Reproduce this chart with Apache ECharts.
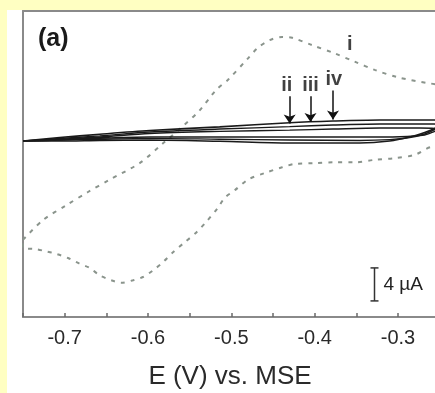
<!DOCTYPE html>
<html>
<head>
<meta charset="utf-8">
<script src="https://cdn.jsdelivr.net/npm/echarts@6/dist/echarts.min.js"></script>
<style>
  html, body { margin: 0; padding: 0; background: #ffffc2; width: 435px; height: 393px; overflow: hidden; position: relative; }
  #chart { position: absolute; left: 7px; top: 10px; width: 430px; height: 383px; background: #ffffff; }
</style>
</head>
<body>
<div id="chart"></div>
<script>
// Cycle i (dashed): potential in V vs. MSE, current in µA (arbitrary zero)
const cycleIForward = [
  [-0.750, -12.1], [-0.726, -9.7], [-0.698, -7.9], [-0.672, -6.3], [-0.646, -4.8],
  [-0.610, -2.8], [-0.582, -0.4], [-0.560, 1.5], [-0.538, 3.6], [-0.518, 6.1],
  [-0.504, 7.3], [-0.480, 9.9], [-0.468, 11.2], [-0.454, 12.1], [-0.439, 12.5],
  [-0.427, 12.4], [-0.403, 11.5], [-0.376, 10.5], [-0.352, 9.5], [-0.328, 8.5],
  [-0.300, 7.6], [-0.264, 6.9], [-0.250, 6.7]
];
const cycleIReverse = [
  [-0.250, -1.1], [-0.259, -0.85], [-0.280, -1.8], [-0.304, -2.2], [-0.328, -2.4],
  [-0.352, -2.7], [-0.376, -2.7], [-0.400, -2.8], [-0.424, -2.9], [-0.439, -3.3],
  [-0.460, -4.0], [-0.480, -4.8], [-0.496, -6.1], [-0.508, -7.0], [-0.516, -8.2],
  [-0.530, -9.9], [-0.542, -11.2], [-0.556, -12.4], [-0.570, -13.6], [-0.582, -14.8],
  [-0.594, -15.8], [-0.606, -16.6], [-0.618, -17.0], [-0.632, -17.3], [-0.644, -17.0],
  [-0.658, -16.4], [-0.670, -15.5], [-0.684, -14.9], [-0.696, -14.3], [-0.710, -13.8],
  [-0.722, -13.5], [-0.736, -13.2], [-0.750, -13.1], [-0.750, -12.1]
];
// Cycles ii–iv (solid): closed loops, forward then reverse sweep
const cycleII = [
  [-0.750, -0.12], [-0.706, 0.30], [-0.658, 0.70], [-0.598, 1.15], [-0.514, 1.60],
  [-0.430, 2.10], [-0.378, 2.30], [-0.322, 2.42], [-0.274, 2.42], [-0.256, 2.42],
  [-0.251, 2.10], [-0.252, 1.70], [-0.258, 1.30], [-0.268, 0.90], [-0.286, 0.36],
  [-0.310, -0.12], [-0.346, -0.36], [-0.430, -0.36], [-0.514, -0.15], [-0.598, 0.0],
  [-0.658, -0.05], [-0.706, -0.12], [-0.750, -0.12]
];
const cycleIII = [
  [-0.750, -0.12], [-0.706, 0.18], [-0.658, 0.50], [-0.598, 0.97], [-0.514, 1.33],
  [-0.430, 1.62], [-0.378, 1.82], [-0.322, 1.94], [-0.274, 1.94], [-0.256, 1.94],
  [-0.252, 1.60], [-0.255, 1.33], [-0.268, 0.73], [-0.286, 0.30], [-0.310, 0.05],
  [-0.346, -0.05], [-0.430, 0.0], [-0.514, 0.10], [-0.598, 0.20], [-0.658, 0.10],
  [-0.706, 0.0], [-0.750, -0.12]
];
const cycleIV = [
  [-0.750, -0.12], [-0.706, 0.12], [-0.658, 0.36], [-0.598, 0.80], [-0.514, 1.05],
  [-0.430, 1.20], [-0.378, 1.33], [-0.322, 1.45], [-0.274, 1.45], [-0.256, 1.40],
  [-0.253, 1.20], [-0.256, 1.05], [-0.268, 0.61], [-0.298, 0.40], [-0.346, 0.36],
  [-0.430, 0.36], [-0.514, 0.36], [-0.598, 0.36], [-0.658, 0.22], [-0.706, 0.0],
  [-0.750, -0.12]
];
// Cycle labels and the arrows that point at cycles ii–iv
const cycleLabels = [
  { name: 'i',   value: [-0.358, 11.6] },
  { name: 'ii',  value: [-0.4335, 6.6] },
  { name: 'iii', value: [-0.405, 6.6] },
  { name: 'iv',  value: [-0.377, 7.3] }
];
const cycleArrows = [
  [[-0.430, 5.3], [-0.430, 2.0]],
  [[-0.405, 5.3], [-0.405, 2.2]],
  [[-0.378, 6.0], [-0.378, 2.5]]
];
// Current scale bar: x, top, bottom (4 µA)
const scaleBar = [[-0.329, -15.5, -19.5]];
const scaleBarText = '4 µA';
const xTickValues = [-0.7, -0.6, -0.5, -0.4, -0.3];

const FONT = '"Liberation Sans", Arial, sans-serif';
const chart = echarts.init(document.getElementById('chart'), null, { renderer: 'canvas' });

const dashedStyle = { color: '#8a948c', width: 2, type: [4, 6] };
const solidStyle = (w) => ({ color: '#1a1a1a', width: w });
const axisLineStyle = { color: '#8a8a8a', width: 2 };

chart.setOption({
  animation: false,
  backgroundColor: 'transparent',
  title: {
    text: '(a)', left: 26, top: 12,
    textStyle: { fontFamily: FONT, fontSize: 25, fontWeight: 'bold', color: '#1a1a1a' }
  },
  grid: {
    left: 16, top: 1, right: 0, bottom: 76,
    outerBoundsMode: 'none', containLabel: false
  },
  xAxis: [{
    type: 'value', min: -0.75, max: -0.2532, interval: 0.05, position: 'bottom',
    name: 'E (V) vs. MSE', nameLocation: 'middle', nameGap: 47,
    nameTextStyle: { fontFamily: FONT, fontSize: 26, color: '#2a2a2a' },
    axisLine: { show: true, onZero: false, lineStyle: axisLineStyle },
    axisTick: { show: true, inside: true, length: 4, lineStyle: { color: '#6a6a6a', width: 1.5 } },
    axisLabel: {
      margin: 11, fontFamily: FONT, fontSize: 20, color: '#2a2a2a',
      formatter: (v) => {
        const hit = xTickValues.find((t) => Math.abs(t - v) < 1e-6);
        return hit === undefined ? '' : hit.toFixed(1);
      }
    },
    splitLine: { show: false }
  }, {
    // top frame line
    type: 'value', min: -0.75, max: -0.2532, position: 'top',
    axisLine: { show: true, onZero: false, lineStyle: axisLineStyle },
    axisTick: { show: false }, axisLabel: { show: false }, splitLine: { show: false }
  }],
  yAxis: {
    type: 'value', min: -21.45, max: 15.64,
    axisLine: { show: true, onZero: false, lineStyle: axisLineStyle },
    axisTick: { show: false }, axisLabel: { show: false }, splitLine: { show: false }
  },
  series: [
    { type: 'line', data: cycleIForward, showSymbol: false, smooth: 0.3, lineStyle: dashedStyle },
    { type: 'line', data: cycleIReverse, showSymbol: false, smooth: 0.3, lineStyle: dashedStyle },
    { type: 'line', data: cycleII, showSymbol: false, smooth: 0.3, lineStyle: solidStyle(1.6) },
    { type: 'line', data: cycleIII, showSymbol: false, smooth: 0.3, lineStyle: solidStyle(1.4) },
    { type: 'line', data: cycleIV, showSymbol: false, smooth: 0.3, lineStyle: solidStyle(1.4) },
    {
      type: 'lines', coordinateSystem: 'cartesian2d',
      symbol: ['none', 'arrow'], symbolSize: 9,
      lineStyle: { color: '#111', width: 1.5, opacity: 1 },
      data: cycleArrows.map((c) => ({ coords: c })),
      z: 5
    },
    {
      type: 'scatter', symbolSize: 0, data: cycleLabels,
      label: {
        show: true, position: 'inside', formatter: '{b}',
        fontFamily: FONT, fontSize: 20, fontWeight: 'bold', color: '#111'
      },
      z: 6
    },
    {
      type: 'custom', data: scaleBar, z: 6,
      renderItem: (params, api) => {
        const top = api.coord([api.value(0), api.value(1)]);
        const bot = api.coord([api.value(0), api.value(2)]);
        const x = Math.round(top[0]) + 0.5, cap = 4;
        const st = { stroke: '#333', lineWidth: 1.5 };
        return {
          type: 'group',
          children: [
            { type: 'line', shape: { x1: x, y1: top[1], x2: x, y2: bot[1] }, style: st },
            { type: 'line', shape: { x1: x - cap, y1: top[1], x2: x + cap, y2: top[1] }, style: st },
            { type: 'line', shape: { x1: x - cap, y1: bot[1], x2: x + cap, y2: bot[1] }, style: st },
            {
              type: 'text',
              style: {
                x: x + 9, y: (top[1] + bot[1]) / 2, text: scaleBarText,
                fontFamily: FONT, fontSize: 19, fill: '#222',
                verticalAlign: 'middle', align: 'left'
              }
            }
          ]
        };
      }
    }
  ]
});
</script>
</body>
</html>
